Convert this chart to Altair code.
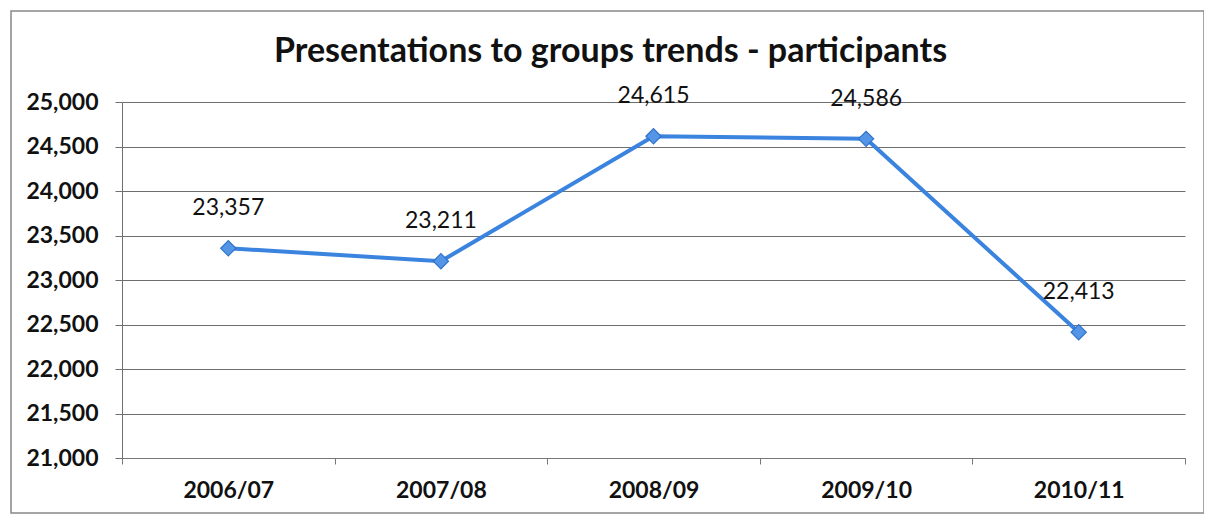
import altair as alt
import pandas as pd

title_text = "Presentations to groups trends - participants"
years = ["2006/07", "2007/08", "2008/09", "2009/10", "2010/11"]
participants = [23357, 23211, 24615, 24586, 22413]
y_ticks = [21000, 21500, 22000, 22500, 23000, 23500, 24000, 24500, 25000]

df = pd.DataFrame({"year": years, "value": participants})
df["label"] = [f"{v:,}" for v in participants]

W, H = 1063, 356
PL, PT = 114, 94
PB = 527 - 16 - PT - H

x = alt.X("year:N", sort=years, bandPosition=0.5,
          scale=alt.Scale(type="band", paddingInner=0, paddingOuter=0),
          axis=alt.Axis(title=None, labelAngle=0, tickBand="extent", grid=False,
                        labelFont="Lato", labelFontWeight="bold", labelFontSize=23,
                        labelColor="#111", labelPadding=15, tickSize=6,
                        tickColor="#777", domainColor="#777"))
y = alt.Y("value:Q",
          scale=alt.Scale(domain=[21000, 25000], nice=False, zero=False),
          axis=alt.Axis(title=None, values=y_ticks,
                        labelExpr="format(datum.value, ',')", grid=True,
                        gridColor="#6f6f6f", gridWidth=1, tickSize=7, tickColor="#6f6f6f",
                        domainColor="#6f6f6f",
                        labelFont="Lato", labelFontWeight="bold", labelFontSize=23,
                        labelColor="#111", labelPadding=17))

base = alt.Chart(df)
line = base.mark_line(color="#3a83de", strokeWidth=4).encode(x=x, y=y)
pts = base.mark_point(shape="diamond", filled=True, size=230, color="#5595e6",
                      stroke="#2f73cc", strokeWidth=1.2, opacity=1).encode(x=x, y=y)
labels = base.mark_text(dy=-40, font="Lato", fontSize=23, color="#111").encode(
    x=x, y=y, text="label:N")

frame = alt.Chart(pd.DataFrame({"a": [0]})).mark_rect(
    fill=None, stroke="#888", strokeWidth=1.5, clip=False).encode(
    x=alt.value(-PL + 3), x2=alt.value(1212 - 8 - PL - 8),
    y=alt.value(-PT + 3), y2=alt.value(527 - 8 - PT - 14))

title = alt.Chart(pd.DataFrame({"t": [title_text]})).mark_text(
    font="Lato", fontSize=34, fontWeight="bold", color="#111",
    baseline="middle", align="center").encode(
    text="t:N", x=alt.value(W / 2 - 43), y=alt.value(-50))

chart = alt.layer(frame, title, line, pts, labels).properties(
    width=W, height=H,
    padding={"left": PL, "top": PT, "right": 1212 - 16 - PL - W, "bottom": PB},
    autosize=alt.AutoSizeParams(type="none"),
    background="white",
).configure_view(strokeWidth=0)

chart.save("out.html", embed_options={"renderer": "svg", "actions": False})
